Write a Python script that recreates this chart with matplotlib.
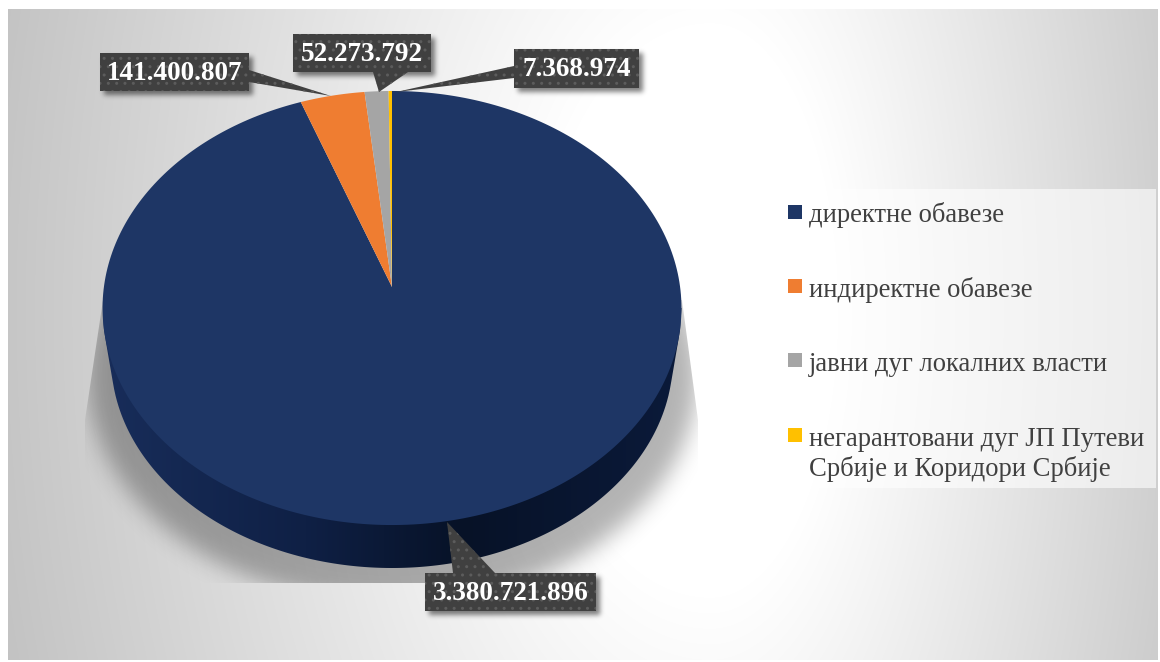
import numpy as np
import matplotlib
matplotlib.use('Agg')
import matplotlib.pyplot as plt
from matplotlib.colors import LinearSegmentedColormap
from matplotlib.patches import Polygon, Rectangle

# ── Data ─────────────────────────────────────────────────────────────────────
CATEGORIES = [['директне обавезе'], ['индиректне обавезе'], ['јавни дуг локалних власти'],
              ['негарантовани дуг ЈП Путеви', 'Србије и Коридори Србије']]
VALUES = [3380721896, 141400807, 52273792, 7368974]
COLORS = ['#1e3665', '#ef7d31', '#a5a5a5', '#ffc000']

W, H = 1160, 662

# pie projection, in figure pixels
APEX_X, APEX_Y = 392, 287
TILT, SCALE_X, SCALE_Y = 0.0968, 288.1, 215.0
ELL_CY, ELL_RX, ELL_RY = 308, 289.5, 217
BASE_CY, BASE_RX, BASE_RY = 358, 281, 210

# label boxes: x0, y0, x1, y1, then callout tail
BOXES = [
    (425, 573, 596, 611, [(453, 573), (447, 522), (495, 573)]),
    (100, 53, 249, 91, [(249, 70), (331, 96), (249, 82)]),
    (293, 34, 431, 72, [(373, 72), (379, 92), (408, 72)]),
    (514, 49, 639, 88, [(514, 66), (396, 92), (514, 78)]),
]

plt.rcParams['font.family'] = ['Liberation Serif', 'DejaVu Serif']


def project(theta, r=1.0):
    # clockwise angle from 12 o'clock on the disc → screen position
    u, v = r * np.sin(theta), r * np.cos(theta)
    w = 1 + TILT * v
    return APEX_X + SCALE_X * u / w, APEX_Y - SCALE_Y * v / w


def blur(a, sigma):
    # gaussian blur done in the frequency domain
    fy = np.fft.fftfreq(a.shape[0])[:, None]
    fx = np.fft.rfftfreq(a.shape[1])[None, :]
    g = np.exp(-2 * (np.pi * sigma) ** 2 * (fx ** 2 + fy ** 2))
    return np.fft.irfft2(np.fft.rfft2(a) * g, s=a.shape)


def shadow_rgba(alpha):
    out = np.zeros((H, W, 4))
    out[..., 3] = np.clip(alpha, 0, 1)
    return out


fig = plt.figure(figsize=(W / 100, H / 100), dpi=100)
fig.patch.set_facecolor('white')
ax = fig.add_axes([0, 0, 1, 1])
ax.set_axis_off()

yy, xx = np.mgrid[0:H, 0:W]

# ── Background: radial grey panel ────────────────────────────────────────────
dx = xx - 710.0
dx = np.where(dx > 0, dx * 1.35, dx)
dist = np.hypot(dx, (yy - 310) * 0.6)
grey = 1 - 0.26 * np.clip((dist - 170) / 620, 0, 1)
bg_cmap = LinearSegmentedColormap.from_list('bg', ['black', 'white'], N=1024)
panel = ax.imshow(grey, cmap=bg_cmap, vmin=0, vmax=1, extent=(0, W, H, 0), aspect='auto',
                  zorder=1)
panel.set_clip_path(Rectangle((8, 9), 1150, 651, transform=ax.transData))

# ── Shadow under the pie ─────────────────────────────────────────────────────
mask = (((xx - 392) / 305.0) ** 2 + ((yy - 375) / 228.0) ** 2 <= 1).astype(float)
shade = ax.imshow(shadow_rgba(blur(mask, 11) * 0.3), extent=(0, W, H, 0), aspect='auto',
                  zorder=2)
shade.set_clip_path(Polygon([(103, 300), (85, 420), (85, 583), (698, 583), (698, 420),
                             (682, 300)], transform=ax.transData))

# ── Side wall ────────────────────────────────────────────────────────────────
xs = np.linspace(392 - ELL_RX, 392 + ELL_RX, 400)
low = np.full_like(xs, ELL_CY, dtype=float)
for t in np.linspace(0, 1, 30):
    cy = ELL_CY + (BASE_CY - ELL_CY) * t
    rx = ELL_RX + (BASE_RX - ELL_RX) * t
    ry = ELL_RY + (BASE_RY - ELL_RY) * t
    inside = np.abs(xs - 392) < rx
    low[inside] = np.maximum(low[inside], cy + ry * np.sqrt(1 - ((xs[inside] - 392) / rx) ** 2))
side_cmap = LinearSegmentedColormap.from_list(
    'side', [(0, '#182d5a'), (0.35, '#0f2045'), (0.62, '#071227'), (1, '#0b1a3a')])
grad = np.linspace(0, 1, 256)[None, :]
side = ax.imshow(grad, cmap=side_cmap, extent=(103, 682, 575, 300), aspect='auto', zorder=3)
side.set_clip_path(Polygon(np.column_stack([np.r_[xs, xs[-1], xs[0]],
                                            np.r_[low, ELL_CY, ELL_CY]]),
                           transform=ax.transData))

# ── Pie top: wedges run clockwise from 12 o'clock ────────────────────────────
fractions = np.array(VALUES) / np.sum(VALUES)
edges = np.r_[0, np.cumsum(fractions)] * 2 * np.pi
for i, color in enumerate(COLORS):
    th = np.linspace(edges[i], edges[i + 1], 300)
    px, py = project(th)
    ax.fill(np.r_[APEX_X, px], np.r_[APEX_Y, py], color=color, lw=0, zorder=4)

# ── Data labels ──────────────────────────────────────────────────────────────
box_shadow = np.zeros((H, W))
for x0, y0, x1, y1, _ in BOXES:
    box_shadow[y0 + 4:y1 + 4, x0 + 4:x1 + 4] = 1
ax.imshow(shadow_rgba(blur(box_shadow, 2.5) * 0.5), extent=(0, W, H, 0), aspect='auto',
          zorder=5)

for value, (x0, y0, x1, y1, tail) in zip(VALUES, BOXES):
    ax.add_patch(Polygon(tail, closed=True, facecolor='#404040', edgecolor='#5c5c5c',
                         hatch='..', lw=0, zorder=6))
    ax.add_patch(Rectangle((x0, y0), x1 - x0, y1 - y0, facecolor='#404040',
                           edgecolor='#5c5c5c', hatch='..', lw=0, zorder=6))
    ax.text((x0 + x1) / 2, (y0 + y1) / 2 + 1.5, f'{value:,}'.replace(',', '.'),
            color='white', fontsize=19.5, fontweight='bold', ha='center', va='center',
            zorder=7)

# ── Legend ───────────────────────────────────────────────────────────────────
ax.add_patch(Rectangle((776, 189), 380, 299, facecolor='white', alpha=0.6, lw=0, zorder=5))
swatch_y = [205, 279, 353, 428]
text_y = [222, 297, 371, 446]
for lines, color, sy, ty in zip(CATEGORIES, COLORS, swatch_y, text_y):
    ax.add_patch(Rectangle((788, sy), 14, 14, facecolor=color, lw=0, zorder=6))
    for n, line in enumerate(lines):
        ax.text(809, ty + n * 30, line, color='#404040', fontsize=19.2, ha='left',
                va='baseline', zorder=6)

ax.set_xlim(0, W)
ax.set_ylim(H, 0)

fig.savefig('out.png', dpi=100)
